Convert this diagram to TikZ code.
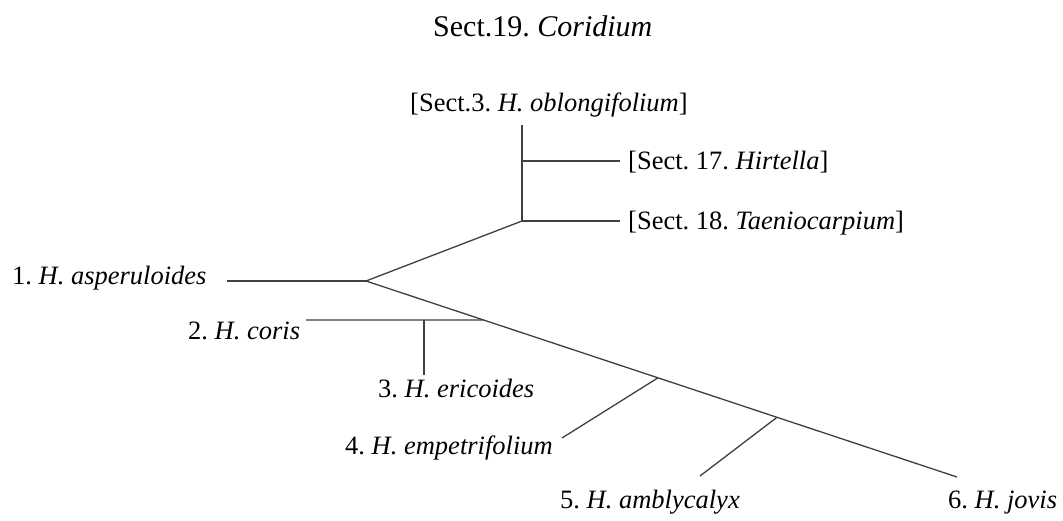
\documentclass[tikz,border=0pt]{standalone}
\usepackage{fontspec}
\setmainfont{Liberation Serif}
\usetikzlibrary{calc}
\frenchspacing
\begin{document}
\begin{tikzpicture}[x=1pt,y=-1pt,
  lbl/.style={anchor=base west,inner sep=0pt,font=\fontsize{26.5}{30}\selectfont},
  ttl/.style={anchor=base west,inner sep=0pt,font=\fontsize{30}{34}\selectfont},
  br/.style={line width=1.3pt,draw=black!75}]
\useasboundingbox[fill=white] (0,0) rectangle (1063,521);
% title
\node[ttl] (title) at (433,37) {Sect.19. \textit{Coridium}};
% labels
\node[lbl] (s3) at (410,112) {[Sect.3. \textit{H. oblongifolium}]};
\node[lbl] (s17) at (628,170) {[Sect. 17. \textit{Hirtella}]};
\node[lbl] (s18) at (628,230) {[Sect. 18. \textit{Taeniocarpium}]};
\node[lbl] (h1) at (12,285) {1. \textit{H. asperuloides}};
\node[lbl] (h2) at (188,340) {2. \textit{H. coris}};
\node[lbl] (h3) at (378,397) {3. \textit{H. ericoides}};
\node[lbl] (h4) at (345,454) {4. \textit{H. empetrifolium}};
\node[lbl] (h5) at (560,508) {5. \textit{H. amblycalyx}};
\node[lbl] (h6) at (948,508) {6. \textit{H. jovis}};
% junctions and free ends
\coordinate (root) at (366,281);
\coordinate (top) at (522,221);
\coordinate (vtop) at (522,125);
\coordinate (j17) at (522,161);
\coordinate (e17) at (620,161);
\coordinate (e18) at (620,221);
\coordinate (e1) at (227,281);
\coordinate (tip) at (957,477);
\coordinate (j2) at ($(root)!0.199!(tip)$);
\coordinate (e2) at (306,320);
\coordinate (j3) at (424,320);
\coordinate (e3) at (424,375);
\coordinate (j4) at ($(root)!0.494!(tip)$);
\coordinate (e4) at (562,438);
\coordinate (j5) at ($(root)!0.6954!(tip)$);
\coordinate (e5) at (700,476);
% branches
\draw[br] (e1) -- (root);
\draw[br] (root) -- (top);
\draw[br] (vtop) -- (top);
\draw[br] (j17) -- (e17);
\draw[br] (top) -- (e18);
\draw[br] (root) -- (tip);
\draw[br] (e2) -- (j2);
\draw[br] (j3) -- (e3);
\draw[br] (e4) -- (j4);
\draw[br] (e5) -- (j5);
\end{tikzpicture}
\end{document}
